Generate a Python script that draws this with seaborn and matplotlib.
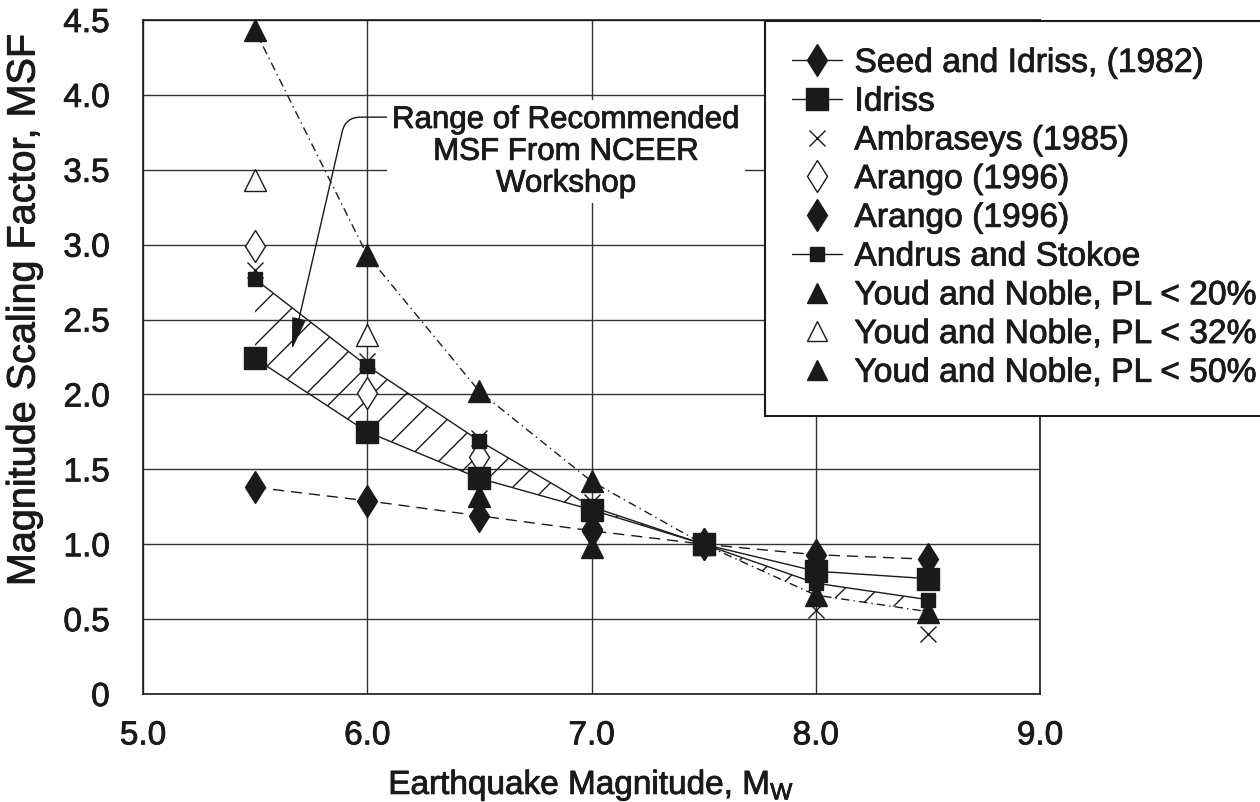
import matplotlib
matplotlib.use('Agg')
import numpy as np
import matplotlib.pyplot as plt
import matplotlib.patheffects as pe
import seaborn as sns
from matplotlib.lines import Line2D

# magnitudes on the x axis
mw = [5.5, 6.0, 6.5, 7.0, 7.5, 8.0, 8.5]

# series drawn with lines
seed_idriss = [1.38, 1.29, 1.19, 1.09, 1.00, 0.93, 0.90]
idriss = [2.24, 1.75, 1.44, 1.23, 1.00, 0.82, 0.77]
andrus = [2.77, 2.19, 1.69, 1.25, 1.00, 0.74, 0.63]
youd_50 = [4.43, 2.93, 2.02, 1.42, 1.00, 0.66, 0.55]

# series drawn as points only
ambraseys = [2.83, 2.22, 1.71, 1.28, 1.00, 0.56, 0.40]
arango_open_mw = [5.5, 6.0, 6.5]
arango_open = [2.99, 2.01, 1.58]
arango_fill_mw = [7.0, 7.5]
arango_fill = [1.10, 1.00]
youd_20_mw = [6.5, 7.0]
youd_20 = [1.32, 0.98]
youd_32_mw = [5.5, 6.0]
youd_32 = [3.43, 2.40]

# recommended range (hatched band)
band_upper = [2.77, 2.19, 1.69, 1.25, 1.00, 0.74, 0.63]
band_lower = [2.24, 1.75, 1.44, 1.23, 1.00, 0.66, 0.55]

legend_labels = ['Seed and Idriss, (1982)', 'Idriss', 'Ambraseys (1985)',
                 'Arango (1996)', 'Arango (1996)', 'Andrus and Stokoe',
                 'Youd and Noble, PL < 20%', 'Youd and Noble, PL < 32%',
                 'Youd and Noble, PL < 50%']

sns.set_theme(style='white')
plt.rcParams['font.family'] = ['Liberation Sans', 'DejaVu Sans']
plt.rcParams['hatch.linewidth'] = 1.0
bold = [pe.withStroke(linewidth=0.6, foreground='k')]

fig = plt.figure(figsize=(12.6, 8.02), dpi=100)
ax = fig.add_axes([143 / 1260, 1 - 694 / 802, 897 / 1260, 674 / 802])

ax.fill_between(mw, band_lower, band_upper, facecolor='none', edgecolor='k',
                hatch='/', linewidth=0, zorder=1)

def line(x, y, ls, marker=None, ms=0, mfc='k', z=3):
    sns.lineplot(x=x, y=y, ax=ax, color='k', linewidth=1, linestyle=ls,
                 marker=marker, markersize=ms, markerfacecolor=mfc,
                 markeredgecolor='k', markeredgewidth=1, zorder=z,
                 legend=False, errorbar=None)

# points-only series
line(mw, ambraseys, 'none', 'x', 11, z=3)
line(arango_open_mw, arango_open, 'none', 'd', 16.5, mfc='white', z=3)
line(youd_32_mw, youd_32, 'none', '^', 16, mfc='white', z=3)

# line series
line(mw, youd_50, (0, (6, 3, 1, 3)), z=2)
line(mw, seed_idriss, (0, (8, 5)), z=2)
line(mw, andrus, '-', 's', 9.5, z=4)
line(mw, idriss, '-', 's', 15.5, z=5)
line(mw, seed_idriss, 'none', 'd', 16.8, z=6)
line(arango_fill_mw, arango_fill, 'none', 'd', 16.8, z=6)
line(youd_20_mw, youd_20, 'none', '^', 16, z=7)
line(mw, youd_50, 'none', '^', 16, z=7)

for l in ax.lines:
    l.set_clip_on(False)

ax.set_xlim(5.0, 9.0)
ax.set_ylim(0, 4.5)
ax.set_xticks([5, 6, 7, 8, 9])
ax.set_xticklabels(['5.0', '6.0', '7.0', '8.0', '9.0'])
yt = np.arange(0, 4.51, 0.5)
ax.set_yticks(yt)
ax.set_yticklabels(['0'] + [f'{v:.1f}' for v in yt[1:]])
ax.tick_params(axis='x', length=0, pad=19, labelsize=24, colors='k')
ax.tick_params(axis='y', length=0, pad=24, labelsize=24, colors='k')
ax.grid(True, color='#333333', linewidth=1)
ax.set_axisbelow(True)
for s in ax.spines.values():
    s.set_color('k')
    s.set_linewidth(1.2)

ax.set_xlabel(r'Earthquake Magnitude, M$_{\mathregular{W}}$', fontsize=24,
              color='k', labelpad=12)
ax.set_ylabel('Magnitude Scaling Factor, MSF', fontsize=28.5, color='k')
ax.yaxis.set_label_coords(-0.112, 0.57)

ann = ax.annotate('Range of Recommended\nMSF From NCEER\nWorkshop',
                  xy=(5.664, 2.30), xytext=(6.886, 3.62), ha='center',
                  va='center', fontsize=22.5, linespacing=1.08, color='k',
                  zorder=8,
                  bbox=dict(boxstyle='square,pad=0.15', fc='white', ec='none'),
                  arrowprops=dict(arrowstyle='-|>,head_length=1.0,head_width=0.22',
                                  mutation_scale=20, color='k', lw=1,
                                  connectionstyle='angle,angleA=180,angleB=77,rad=15',
                                  relpos=(0, 0.87), shrinkA=0, shrinkB=0))

handles = [
    Line2D([], [], color='k', lw=1, marker='d', ms=16.8, mfc='k', mec='k'),
    Line2D([], [], color='k', lw=1, marker='s', ms=15.5, mfc='k', mec='k'),
    Line2D([], [], ls='none', marker='x', ms=11, mec='k', mew=1),
    Line2D([], [], ls='none', marker='d', ms=16.5, mfc='white', mec='k'),
    Line2D([], [], ls='none', marker='d', ms=16.8, mfc='k', mec='k'),
    Line2D([], [], color='k', lw=1, marker='s', ms=9.5, mfc='k', mec='k'),
    Line2D([], [], ls='none', marker='^', ms=14, mfc='k', mec='k'),
    Line2D([], [], ls='none', marker='^', ms=14, mfc='white', mec='k'),
    Line2D([], [], ls='none', marker='^', ms=14, mfc='k', mec='k'),
]
leg = fig.legend(handles, legend_labels, loc='upper left',
                 bbox_to_anchor=(765 / 1260, 1 - 21 / 802), borderaxespad=0,
                 fontsize=24.2, frameon=True, fancybox=False, framealpha=1,
                 edgecolor='k', handlelength=1.5, handletextpad=0.36,
                 labelspacing=0.23, borderpad=0.8)
leg.get_frame().set_linewidth(1.5)

texts = list(leg.get_texts()) + ax.get_xticklabels() + ax.get_yticklabels()
texts += [ax.xaxis.label, ax.yaxis.label, ann]
for t in texts:
    t.set_color('k')
    t.set_path_effects(bold)

fig.savefig('out.png', dpi=100)
